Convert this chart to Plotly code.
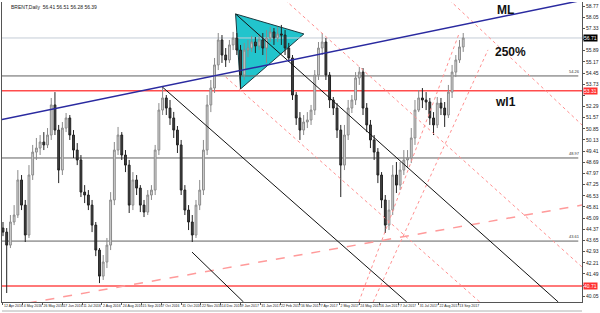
import plotly.graph_objects as go

title_text = "BRENT,Daily  56.41 56.51 56.28 56.39"

# one candle per 3 trading sessions, x = trading-day index from 12 Apr 2016
bar_index = list(range(0, 373, 3))

opens = [44.45, 44.19, 43.35, 44.84, 45.29, 47.55, 45.93, 44.00, 47.87, 49.35,
         49.61, 50.00, 49.81, 50.45, 52.39, 50.77, 48.19, 50.90, 51.55, 50.45,
         49.48, 48.84, 46.77, 46.58, 45.93, 44.64, 43.03, 41.35, 42.26, 43.35,
         46.26, 49.48, 50.45, 49.16, 48.51, 45.93, 47.55, 47.03, 45.93, 45.48,
         46.58, 46.90, 49.48, 52.06, 52.84, 52.19, 51.55, 50.77, 49.81, 46.90,
         45.61, 44.84, 44.00, 45.93, 46.90, 49.48, 52.39, 53.48, 54.97, 56.58,
         55.61, 55.29, 56.26, 56.71, 55.93, 54.32, 55.93, 56.06, 56.45, 56.19,
         56.58, 56.06, 56.71, 57.10, 56.71, 56.97, 56.90, 56.06, 55.42, 53.03,
         51.55, 50.77, 51.29, 51.42, 52.06, 54.32, 56.06, 56.45, 54.32, 52.71,
         52.19, 50.77, 48.51, 50.45, 52.19, 52.71, 54.13, 54.51, 52.19, 51.10,
         50.13, 49.35, 47.87, 46.26, 44.64, 45.61, 47.87, 47.22, 48.19, 48.84,
         48.97, 50.26, 52.06, 52.84, 52.71, 52.58, 51.55, 51.10, 52.51, 52.19,
         51.74, 53.22, 54.51, 55.29, 56.13]
highs = [44.84, 44.45, 45.29, 45.93, 48.19, 47.87, 46.26, 48.51, 49.81, 50.26,
         50.45, 50.64, 50.90, 52.84, 53.22, 51.10, 51.29, 51.87, 51.74, 50.77,
         49.93, 49.16, 47.22, 46.90, 46.26, 44.84, 43.16, 42.71, 43.81, 46.77,
         50.00, 50.97, 50.64, 49.48, 48.84, 48.06, 47.87, 47.22, 46.26, 46.90,
         47.22, 49.81, 52.51, 53.55, 53.03, 52.71, 51.94, 51.03, 50.13, 47.22,
         45.93, 45.29, 46.26, 47.55, 50.13, 53.03, 54.00, 55.42, 57.03, 56.90,
         56.06, 56.58, 57.10, 57.03, 56.26, 56.39, 56.58, 56.84, 56.77, 56.97,
         57.03, 57.22, 57.42, 57.35, 57.42, 57.55, 57.22, 56.39, 55.61, 53.22,
         51.93, 51.74, 51.93, 52.39, 54.64, 56.45, 57.03, 56.71, 54.51, 52.90,
         52.51, 51.10, 51.10, 52.71, 53.03, 54.51, 54.84, 54.77, 52.51, 51.42,
         50.45, 49.61, 48.06, 46.58, 46.26, 48.51, 48.71, 48.71, 49.48, 49.48,
         50.90, 52.71, 53.35, 53.48, 53.22, 52.84, 51.93, 52.90, 52.84, 52.58,
         53.68, 54.97, 55.61, 56.58, 57.03]
lows = [43.93, 40.26, 43.16, 44.64, 45.10, 45.61, 43.55, 43.81, 47.55, 48.84,
        49.16, 49.48, 49.61, 50.13, 50.45, 47.35, 47.87, 50.64, 50.13, 48.97,
        48.51, 46.45, 46.06, 45.61, 44.19, 42.64, 40.90, 41.10, 41.87, 43.03,
        45.93, 49.16, 48.84, 48.06, 45.42, 45.61, 46.58, 45.48, 45.16, 45.29,
        46.26, 46.58, 49.16, 51.74, 51.74, 51.10, 50.26, 49.29, 46.58, 45.29,
        44.32, 43.55, 43.81, 45.61, 46.58, 49.16, 51.93, 53.16, 54.64, 55.10,
        54.84, 55.10, 55.93, 55.61, 53.42, 54.00, 55.48, 55.81, 55.74, 55.93,
        55.61, 55.10, 56.45, 56.26, 56.45, 56.26, 55.61, 55.16, 52.71, 51.10,
        50.13, 50.45, 50.90, 51.10, 51.74, 54.00, 55.61, 54.00, 52.19, 51.74,
        50.26, 46.45, 48.19, 50.13, 51.87, 52.39, 53.68, 51.74, 50.64, 49.61,
        48.84, 47.35, 45.74, 44.13, 44.32, 45.29, 46.71, 46.90, 47.87, 48.32,
        48.64, 49.81, 51.93, 52.19, 52.06, 51.10, 50.45, 50.90, 51.74, 50.97,
        51.55, 52.84, 54.19, 55.10, 55.81]
closes = [44.19, 43.35, 44.84, 45.29, 47.55, 45.93, 44.00, 47.87, 49.35, 49.61,
          50.00, 49.81, 50.45, 52.39, 50.77, 48.19, 50.90, 51.55, 50.45, 49.48,
          48.84, 46.77, 46.58, 45.93, 44.64, 43.03, 41.35, 42.26, 43.35, 46.26,
          49.48, 50.45, 49.16, 48.51, 45.93, 47.55, 47.03, 45.93, 45.48, 46.58,
          46.90, 49.48, 52.06, 52.84, 52.19, 51.55, 50.77, 49.81, 46.90, 45.61,
          44.84, 44.00, 45.93, 46.90, 49.48, 52.39, 53.48, 54.97, 56.58, 55.61,
          55.29, 56.26, 56.71, 55.93, 54.32, 55.93, 56.06, 56.45, 56.19, 56.58,
          56.06, 56.71, 57.10, 56.71, 56.97, 56.90, 56.06, 55.42, 53.03, 51.55,
          50.77, 51.29, 51.42, 52.06, 54.32, 56.06, 56.45, 54.32, 52.71, 52.19,
          50.77, 48.51, 50.45, 52.19, 52.71, 54.13, 54.51, 52.19, 51.10, 50.13,
          49.35, 47.87, 46.26, 44.64, 45.61, 47.87, 47.22, 48.19, 48.84, 48.97,
          50.26, 52.06, 52.84, 52.71, 52.58, 51.55, 51.10, 52.51, 52.19, 51.74,
          53.22, 54.51, 55.29, 56.13, 56.71]

date_tick_index = [0, 16, 32, 48, 64, 80, 96, 112, 128, 144, 160, 176,
                   192, 208, 224, 240, 256, 272, 288, 304, 320, 336, 352, 368]
date_tick_labels = ["12 Apr 2016", "4 May 2016", "26 May 2016", "17 Jun 2016",
                    "11 Jul 2016", "2 Aug 2016", "24 Aug 2016", "15 Sep 2016",
                    "7 Oct 2016", "31 Oct 2016", "22 Nov 2016", "14 Dec 2016",
                    "9 Jan 2017", "31 Jan 2017", "22 Feb 2017", "16 Mar 2017",
                    "7 Apr 2017", "2 May 2017", "24 May 2017", "16 Jun 2017",
                    "7 Jul 2017", "31 Jul 2017", "22 Aug 2017", "13 Sep 2017"]

price_tick_values = [40.05, 40.77, 41.49, 42.21, 42.93, 43.65, 44.37, 45.09, 45.81,
                     46.53, 47.25, 47.97, 48.69, 49.41, 50.13, 50.85, 51.57, 52.29,
                     53.01, 53.73, 54.45, 55.17, 55.89, 56.61, 57.33, 58.05, 58.77]
price_tick_labels = ["40.05", "", "41.49", "42.21", "42.93", "43.65", "44.37", "45.09",
                     "45.81", "46.53", "47.25", "47.97", "48.69", "49.41", "50.13",
                     "50.85", "51.57", "52.29", "", "53.73", "54.45", "55.17", "55.89",
                     "", "57.33", "58.05", "58.77"]

# horizontal levels
gray_levels = [54.26, 48.97, 43.61]
red_levels = [53.31, 40.71]
current_price = closes[-1]

# drawn objects: (bar index, price) pairs
ml_line = [(-0.8, 51.45), (468, 59.14)]
black_lines = [[(128.8, 53.55), (326.4, 39.68)],
               [(188.0, 58.26), (448.8, 39.68)],
               [(152.8, 42.90), (194.4, 39.68)]]
red_dash_line = [(20.0, 39.61), (468, 45.93)]
red_dot_lines = [[(180.0, 54.19), (386.4, 39.61)],
                 [(228.0, 59.16), (468, 41.94)],
                 [(360.8, 59.16), (468, 51.10)],
                 [(287.6, 39.68), (368.8, 57.03)],
                 [(299.2, 39.68), (392.0, 55.94)]]
triangle = [(188.0, 58.26), (192.0, 53.42), (243.2, 56.97)]

XMIN, XMAX = -0.8, 468.0
YMIN, YMAX = 39.68, 59.03
FONT = "Liberation Sans"

fig = go.Figure()

shapes = []
tri_path = "M {} {} L {} {} L {} {} Z".format(triangle[0][0], triangle[0][1],
                                             triangle[1][0], triangle[1][1],
                                             triangle[2][0], triangle[2][1])
shapes.append(dict(type="path", path=tri_path, xref="x", yref="y", layer="below",
                   fillcolor="#22c4cc", line=dict(color="#1a3a40", width=1)))
for lv in gray_levels:
    shapes.append(dict(type="line", xref="x", yref="y", x0=XMIN, x1=465, y0=lv, y1=lv,
                       line=dict(color="#606060", width=1), layer="below"))
for lv in red_levels:
    shapes.append(dict(type="line", xref="x", yref="y", x0=XMIN, x1=XMAX, y0=lv, y1=lv,
                       line=dict(color="#ff4d4d", width=1.5), layer="below"))
shapes.append(dict(type="line", xref="x", yref="y", x0=XMIN, x1=XMAX,
                   y0=current_price, y1=current_price,
                   line=dict(color="#c4ccd6", width=1), layer="below"))
for seg in red_dot_lines:
    shapes.append(dict(type="line", xref="x", yref="y", x0=seg[0][0], y0=seg[0][1],
                       x1=seg[1][0], y1=seg[1][1],
                       line=dict(color="#ff9090", width=1, dash="dot")))
shapes.append(dict(type="line", xref="x", yref="y", x0=red_dash_line[0][0], y0=red_dash_line[0][1],
                   x1=red_dash_line[1][0], y1=red_dash_line[1][1],
                   line=dict(color="#ff9a9a", width=1.5, dash="dash")))
for seg in black_lines:
    shapes.append(dict(type="line", xref="x", yref="y", x0=seg[0][0], y0=seg[0][1],
                       x1=seg[1][0], y1=seg[1][1],
                       line=dict(color="#111111", width=1)))
shapes.append(dict(type="line", xref="x", yref="y", x0=ml_line[0][0], y0=ml_line[0][1],
                   x1=ml_line[1][0], y1=ml_line[1][1],
                   line=dict(color="#2a2aa0", width=1.5)))
# bottom tab strip
shapes.append(dict(type="line", xref="paper", yref="paper", x0=0, x1=1, y0=-0.03, y1=-0.03,
                   line=dict(color="#b0b0b0", width=1)))

fig.add_trace(go.Candlestick(
    x=bar_index, open=opens, high=highs, low=lows, close=closes,
    increasing=dict(line=dict(color="#8a8a8a", width=1), fillcolor="#d6d6d6"),
    decreasing=dict(line=dict(color="#222222", width=1), fillcolor="#444444"),
    whiskerwidth=0, showlegend=False, hoverinfo="skip"))

annotations = [
    dict(text="<b>ML</b>", x=406, y=58.5, xref="x", yref="y", showarrow=False,
         font=dict(family=FONT, size=12, color="#111111")),
    dict(text="<b>250%</b>", x=410, y=55.8, xref="x", yref="y", showarrow=False,
         font=dict(family=FONT, size=12, color="#111111")),
    dict(text="<b>wl1</b>", x=406, y=52.6, xref="x", yref="y", showarrow=False,
         font=dict(family=FONT, size=12, color="#111111")),
    dict(text=title_text, x=0.012, y=1.0, xref="paper", yref="paper", showarrow=False,
         xanchor="left", yanchor="top", font=dict(family=FONT, size=5, color="#222222")),
]
for lv in gray_levels:
    annotations.append(dict(text="{:.2f}".format(lv), x=XMAX, y=lv, xref="x", yref="y",
                            showarrow=False, xanchor="right", yanchor="bottom",
                            font=dict(family=FONT, size=4, color="#333333")))
for lv in red_levels:
    annotations.append(dict(text="{:.2f}".format(lv), x=1, y=lv, xref="paper", yref="y",
                            showarrow=False, xanchor="left", yanchor="middle", xshift=1,
                            bgcolor="#ff3030", borderpad=0,
                            font=dict(family=FONT, size=5, color="#ffffff")))
annotations.append(dict(text="{:.2f}".format(current_price), x=1, y=current_price, xref="paper",
                        yref="y", showarrow=False, xanchor="left", yanchor="middle", xshift=1,
                        bgcolor="#000000", borderpad=0,
                        font=dict(family=FONT, size=5, color="#ffffff")))

fig.update_layout(
    width=600, height=313,
    margin=dict(l=1, r=13, t=2, b=11),
    paper_bgcolor="#ffffff", plot_bgcolor="#ffffff",
    shapes=shapes, annotations=annotations,
    xaxis=dict(range=[XMIN, XMAX], tickvals=date_tick_index, ticktext=date_tick_labels,
               tickangle=0, showgrid=False, zeroline=False, showline=True,
               linecolor="#555555", linewidth=1,
               ticks="outside", ticklen=2, tickcolor="#555555",
               ticklabelposition="outside right",
               tickfont=dict(family=FONT, size=3.5, color="#222222"),
               rangeslider=dict(visible=False)),
    yaxis=dict(range=[YMIN, YMAX], side="right", tickvals=price_tick_values,
               ticktext=price_tick_labels,
               showgrid=False, zeroline=False, showline=True, mirror=True,
               linecolor="#555555", linewidth=1, ticks="outside", ticklen=2,
               tickcolor="#555555",
               tickfont=dict(family=FONT, size=5, color="#222222")),
)

fig.write_html("out.html")
